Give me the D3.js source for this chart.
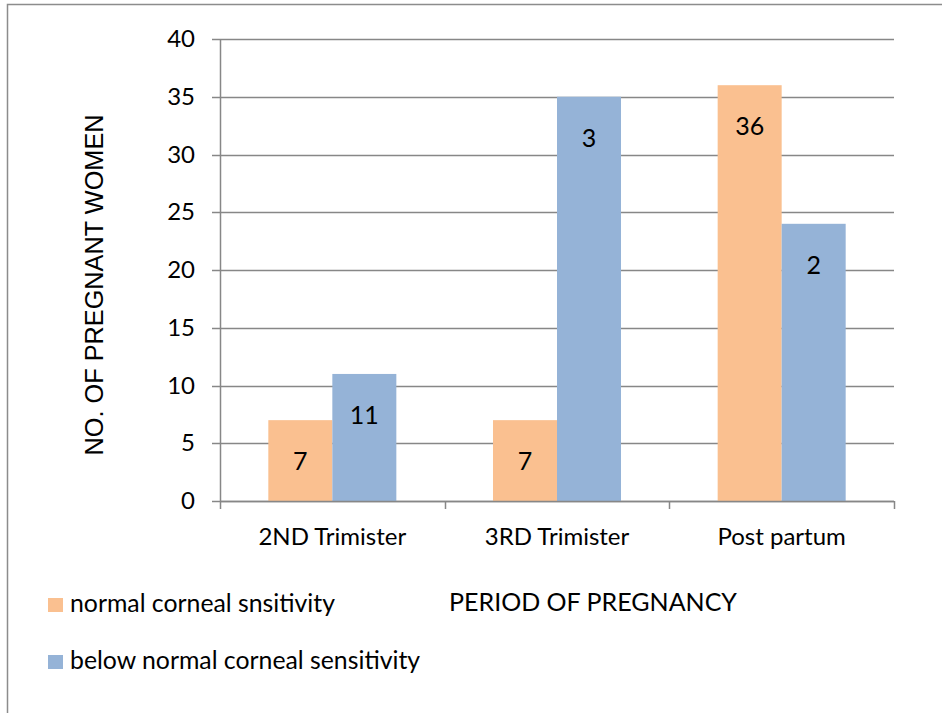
<!DOCTYPE html>
<html>
<head>
<meta charset="utf-8">
<script src="https://cdn.jsdelivr.net/npm/d3@7"></script>
<style>
  html, body { margin: 0; padding: 0; background: #fff; }
  svg { display: block; }
  text { font-family: Lato, "Open Sans", sans-serif; fill: #000; }
</style>
</head>
<body>
<svg id="chart" width="942" height="713"></svg>
<script>
// Periods of pregnancy on the x axis
const categories = ["2ND Trimister", "3RD Trimister", "Post partum"];
// Series names (legend order)
const seriesNames = ["normal corneal snsitivity", "below normal corneal sensitivity"];
// Number of pregnant women per period, one array per series
const normalValues = [7, 7, 36];
const belowValues = [11, 35, 24];
// Data label text shown inside each bar
const normalLabels = ["7", "7", "36"];
const belowLabels = ["11", "3", "2"];
// Value axis ticks
const yTicks = [0, 5, 10, 15, 20, 25, 30, 35, 40];
const seriesColors = ["#FAC090", "#95B3D7"];

const svg = d3.select("#chart");
const plot = { left: 220, right: 894, top: 39, bottom: 501 };
const gridColor = "#878787";

// outer frame (top and left edges)
svg.append("path")
  .attr("d", "M7.5,713 L7.5,4.5 L942,4.5")
  .attr("fill", "none")
  .attr("stroke", "#8c8c8c")
  .attr("stroke-width", 1.5);

const y = d3.scaleLinear().domain([0, 40]).range([plot.bottom, plot.top]);
const x = d3.scaleBand().domain(categories).range([plot.left, plot.right]).padding(0);
const xs = d3.scaleBand().domain(d3.range(seriesNames.length))
  .range([0, x.bandwidth()]).paddingInner(0).paddingOuter(0.755);

// horizontal gridlines
svg.append("g").selectAll("line").data(yTicks).join("line")
  .attr("x1", plot.left - 8).attr("x2", plot.right)
  .attr("y1", d => Math.round(y(d)) + 0.5).attr("y2", d => Math.round(y(d)) + 0.5)
  .attr("stroke", gridColor).attr("stroke-width", 1.5);

// value axis labels
const yAxis = d3.axisLeft(y).tickValues(yTicks).tickSize(0).tickPadding(25);
const gy = svg.append("g").attr("transform", `translate(${plot.left},0)`).call(yAxis);
gy.select(".domain").remove();
gy.selectAll("text").style("font-size", "24px").style("font-family", "Lato, sans-serif").attr("fill", "#000");

// bars
const rows = categories.map((c, i) => ({ cat: c, vals: [normalValues[i], belowValues[i]], labels: [normalLabels[i], belowLabels[i]] }));
const groups = svg.append("g").selectAll("g").data(rows).join("g")
  .attr("transform", d => `translate(${x(d.cat)},0)`);
groups.selectAll("rect").data(d => d.vals.map((v, k) => ({ v, k }))).join("rect")
  .attr("x", d => xs(d.k)).attr("width", xs.bandwidth())
  .attr("y", d => y(d.v)).attr("height", d => y(0) - y(d.v))
  .attr("fill", d => seriesColors[d.k]);
groups.selectAll("text").data(d => d.vals.map((v, k) => ({ v, k, t: d.labels[k] }))).join("text")
  .attr("x", d => xs(d.k) + xs.bandwidth() / 2)
  .attr("y", d => y(d.v) + 40)
  .attr("text-anchor", "middle").attr("dominant-baseline", "central")
  .style("font-size", "25px")
  .text(d => d.t);

// category axis
const xAxisLine = svg.append("g");
xAxisLine.append("line")
  .attr("x1", plot.left).attr("x2", plot.right)
  .attr("y1", plot.bottom + 0.5).attr("y2", plot.bottom + 0.5)
  .attr("stroke", gridColor).attr("stroke-width", 1.5);
xAxisLine.append("line")
  .attr("x1", plot.left + 0.5).attr("x2", plot.left + 0.5)
  .attr("y1", plot.top).attr("y2", plot.bottom + 8)
  .attr("stroke", gridColor).attr("stroke-width", 1.5);
const catEdges = categories.map(c => x(c) + x.bandwidth());
xAxisLine.selectAll(".ctick").data(catEdges).join("line")
  .attr("x1", d => Math.round(d) + 0.5).attr("x2", d => Math.round(d) + 0.5)
  .attr("y1", plot.bottom).attr("y2", plot.bottom + 8)
  .attr("stroke", gridColor).attr("stroke-width", 1.5);
xAxisLine.selectAll(".clabel").data(categories).join("text")
  .attr("x", d => x(d) + x.bandwidth() / 2)
  .attr("y", 545)
  .attr("text-anchor", "middle")
  .style("font-size", "24px")
  .text(d => d);

// axis titles
svg.append("text")
  .attr("transform", "translate(103,285) rotate(-90)")
  .attr("text-anchor", "middle")
  .style("font-family", "'Liberation Sans', Arial, sans-serif")
  .style("font-size", "25.3px")
  .text("NO. OF PREGNANT WOMEN");
svg.append("text")
  .attr("x", 593).attr("y", 611)
  .attr("text-anchor", "middle")
  .style("font-size", "25px")
  .text("PERIOD OF PREGNANCY");

// legend
const legend = svg.append("g").selectAll("g").data(seriesNames).join("g")
  .attr("transform", (d, i) => `translate(48,${598 + i * 57})`);
legend.append("rect").attr("width", 15).attr("height", 14).attr("fill", (d, i) => seriesColors[i]);
legend.append("text").attr("x", 22).attr("y", 14)
  .style("font-size", "24.8px")
  .text(d => d);
</script>
</body>
</html>
